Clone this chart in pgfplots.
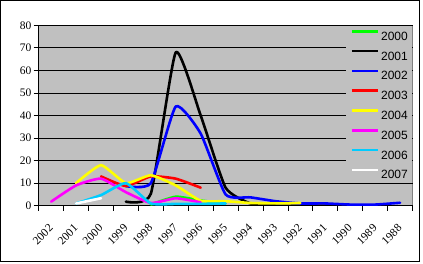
\documentclass[border=0pt]{standalone}
\usepackage{pgfplots}
\pgfplotsset{compat=1.18}
\usepackage{fontspec}
\setmainfont{Liberation Serif}
\newfontfamily\arialfont{Liberation Sans}
\definecolor{plotgray}{RGB}{192,192,192}
\definecolor{bordergray}{RGB}{128,128,128}
\definecolor{xlgreen}{RGB}{0,255,0}
\definecolor{xlblue}{RGB}{0,0,255}
\definecolor{xlred}{RGB}{255,0,0}
\definecolor{xlyellow}{RGB}{255,255,0}
\definecolor{xlmagenta}{RGB}{255,0,255}
\definecolor{xlcyan}{RGB}{0,204,255}
\begin{document}
\begin{tikzpicture}[x=1pt,y=1pt]
\path[use as bounding box] (0,0) rectangle (423,263);
\fill[white] (0,0) rectangle (423,263);
\draw[black,line width=1pt] (0.5,1.5) rectangle (419,262.5);
\begin{axis}[
  at={(38.7pt,57.3pt)}, anchor=south west,
  scale only axis, width=373.8pt, height=180.4pt,
  xmin=-0.5, xmax=14.5, ymin=0, ymax=80,
  clip=false,
  axis background/.style={fill=plotgray, draw=bordergray, line width=1pt},
  axis lines*=left,
  axis line style={-, black, line width=1pt},
  tick align=outside,
  major tick length=5pt,
  tick style={black, line width=0.8pt},
  ytick={0,10,...,80},
  ymajorgrids,
  grid style={black, line width=0.8pt},
  xtick={-0.5,0.5,1.5,2.5,3.5,4.5,5.5,6.5,7.5,8.5,9.5,10.5,11.5,12.5,13.5,14.5},
  xticklabels={2002,2001,2000,1999,1998,1997,1996,1995,1994,1993,1992,1991,1990,1989,1988,{}},
  xticklabel style={font=\fontsize{11.5}{12}\selectfont, inner sep=0pt, xshift=9.5pt, yshift=-12.5pt, rotate=45, anchor=north east},
  yticklabel style={font=\fontsize{11.5}{12}\selectfont, inner sep=0pt, anchor=east, xshift=-2pt},
  /pgf/number format/assume math mode=true,
  every axis plot/.append style={line width=2.6pt, smooth, tension=0.3, line join=round, line cap=round},
  legend style={at={(1,1)}, anchor=north east, fill=plotgray, draw=none,
    font=\arialfont\fontsize{12}{12}\selectfont,
    inner xsep=4.5pt, inner ysep=4.4pt, row sep=9.5pt,
    nodes={inner sep=0pt, text height=9pt, text depth=0pt},
    /tikz/every odd column/.style={column sep=2pt}},
  legend cell align=left,
  legend image code/.code={\draw[#1, line width=2.6pt, line cap=butt] (0pt,4.5pt) -- (26pt,4.5pt);},
]
\addplot[xlgreen] coordinates {(4,0.5) (5,4) (6,2.3) (7,1)};
\addlegendentry{2000}
\addplot[black] coordinates {(3,1.8) (4,5.3) (5,68) (6,40) (7,8) (8,1) (9,1) (10,1) (11,1)};
\addlegendentry{2001}
\addplot[xlblue] coordinates {(3,8.7) (4,10) (5,44) (6,32) (7,5) (8,3.7) (9,2) (10,1) (11,1) (12,0.5) (13,0.5) (14,1.3)};
\addlegendentry{2002}
\addplot[xlred] coordinates {(2,13) (3,8.7) (4,13) (5,12) (6,8)};
\addlegendentry{2003}
\addplot[xlyellow] coordinates {(1,10) (2,18) (3,10) (4,13.5) (5,9) (6,2.2) (7,2) (8,1.2) (9,1) (10,1.2)};
\addlegendentry{2004}
\addplot[xlmagenta] coordinates {(0,1.8) (1,9) (2,12) (3,6) (4,1.2) (5,3.3) (6,1.5)};
\addlegendentry{2005}
\addplot[xlcyan] coordinates {(1,1) (2,4.7) (3,10) (4,1) (5,0.8) (6,0.8) (7,1)};
\addlegendentry{2006}
\addplot[white] coordinates {(1,1) (2,3.3)};
\addlegendentry{2007}
\end{axis}
\end{tikzpicture}
\end{document}
